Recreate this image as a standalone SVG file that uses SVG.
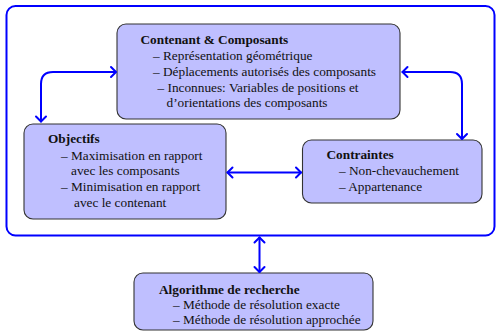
<svg xmlns="http://www.w3.org/2000/svg" width="496" height="336" viewBox="0 0 496 336">
<style>
.box{fill:#bfbfff;stroke:#333;stroke-width:1.1}
.c{fill:none;stroke:#0000ff;stroke-width:2;stroke-linecap:round;stroke-linejoin:round}
.txt{font-size:13.3px;fill:#111}
.t{font-weight:bold}
</style>
<rect x="6.5" y="6" width="488" height="229.5" rx="9" fill="none" stroke="#0000ff" stroke-width="2"/>
<g id="contenant" class="txt" font-family="Liberation Serif, Times New Roman, serif">
<rect class="box" x="117" y="24" width="283" height="95" rx="9"/>
<text class="t" x="140.5" y="43.5">Contenant &amp; Composants</text>
<text x="153" y="59.5">– Représentation géométrique</text>
<text x="153" y="75.5">– Déplacements autorisés des composants</text>
<text x="157.5" y="91.5">– Inconnues: Variables de positions et</text>
<text x="166.5" y="107">d’orientations des composants</text>
</g>
<g id="objectifs" class="txt" font-family="Liberation Serif, Times New Roman, serif">
<rect class="box" x="24" y="124" width="202" height="95" rx="9"/>
<text class="t" x="48" y="142.5">Objectifs</text>
<text x="61" y="159.5">– Maximisation en rapport</text>
<text x="71" y="175">avec les composants</text>
<text x="61" y="191">– Minimisation en rapport</text>
<text x="74" y="206.5">avec le contenant</text>
</g>
<g id="contraintes" class="txt" font-family="Liberation Serif, Times New Roman, serif">
<rect class="box" x="302.5" y="140" width="179.5" height="63" rx="9"/>
<text class="t" x="326.5" y="158.5">Contraintes</text>
<text x="339" y="175">– Non-chevauchement</text>
<text x="339" y="191">– Appartenance</text>
</g>
<g id="algorithme" class="txt" font-family="Liberation Serif, Times New Roman, serif">
<rect class="box" x="134" y="273" width="239" height="57" rx="9"/>
<text class="t" x="159" y="293.5">Algorithme de recherche</text>
<text x="173" y="308.5">– Méthode de résolution exacte</text>
<text x="173" y="323.5">– Méthode de résolution approchée</text>
</g>
<g id="connectors" class="c">
<path d="M115.5 72 H53 Q41 72 41 84 V121.5"/>
<path d="M111 67 L116 72 L111 77"/>
<path d="M36 116.5 L41 121.5 L46 116.5"/>
<path d="M402.5 72 H450 Q462 72 462 84 V139"/>
<path d="M407.5 67 L402.5 72 L407.5 77"/>
<path d="M457 134 L462 139 L467 134"/>
<path d="M227.5 172.5 H301"/>
<path d="M232.5 167.5 L227.5 172.5 L232.5 177.5"/>
<path d="M296 167.5 L301 172.5 L296 177.5"/>
<path d="M259.5 237.5 V272"/>
<path d="M254.5 242.5 L259.5 237.5 L264.5 242.5"/>
<path d="M254.5 267 L259.5 272 L264.5 267"/>
</g>
</svg>
